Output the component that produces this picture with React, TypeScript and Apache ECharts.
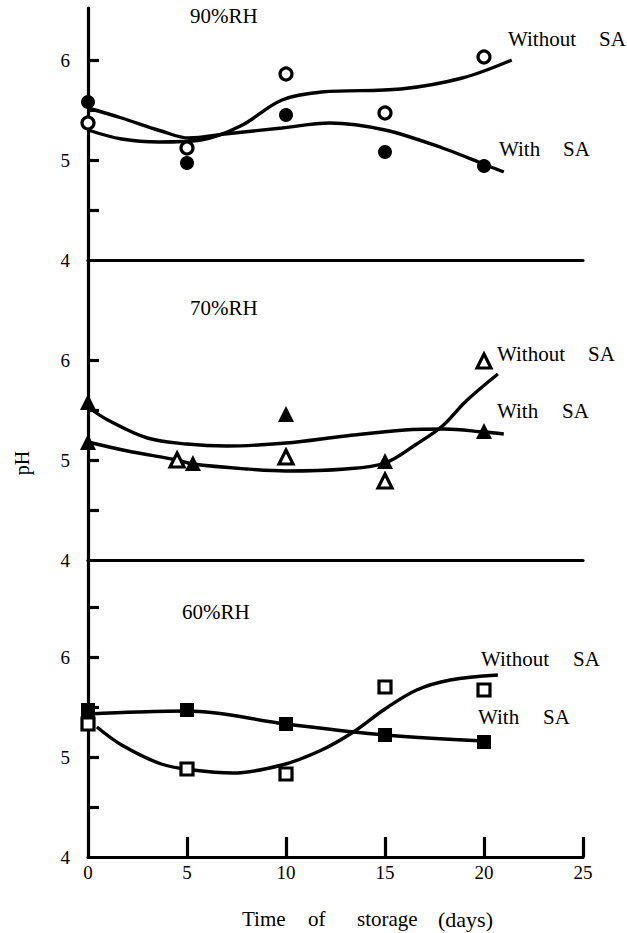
import React, { useEffect, useRef } from 'react';
import * as echarts from 'echarts';

// ---- data ----
const days = [0, 5, 10, 15, 20];
const xTickLabels = [0, 5, 10, 15, 20, 25];
const yTickLabels = [4, 5, 6];

// 90% RH
const open90 = [5.37, 5.12, 5.86, 5.47, 6.03];
const filled90 = [5.58, 4.97, 5.45, 5.08, 4.94];
const curve90Without = [
  [0, 5.3], [1.7, 5.21], [3.6, 5.18], [5.7, 5.2], [7.7, 5.34], [9.8, 5.6],
  [11.8, 5.68], [15.8, 5.71], [18.9, 5.82], [21.4, 6.0],
];
const curve90With = [
  [0, 5.52], [1.7, 5.42], [3.7, 5.29], [5.1, 5.22], [6.9, 5.26], [9.8, 5.32],
  [12.2, 5.37], [15.0, 5.3], [17.9, 5.12], [20.1, 4.95], [21.0, 4.88],
];

// 70% RH
const open70Days = [4.5, 10, 15, 20];
const open70 = [5.0, 5.03, 4.79, 5.99];
const filled70Days = [0, 0, 5.3, 10, 15, 20];
const filled70 = [5.58, 5.18, 4.97, 5.46, 4.99, 5.29];
const curve70Without = [
  [0, 5.18], [2, 5.09], [4.5, 5.0], [5.3, 4.96], [8, 4.91], [10, 4.89],
  [13, 4.91], [15, 4.97], [16.6, 5.16], [17.9, 5.34], [19.1, 5.59], [20.7, 5.86],
];
const curve70With = [
  [0, 5.53], [1, 5.4], [3, 5.22], [5, 5.16], [7, 5.14], [10, 5.17],
  [13, 5.24], [16, 5.3], [18, 5.31], [20, 5.28], [21, 5.26],
];

// 60% RH
const open60 = [5.33, 4.88, 4.83, 5.7, 5.67];
const filled60 = [5.47, 5.47, 5.33, 5.22, 5.15];
const curve60Without = [
  [0.45, 5.3], [1.7, 5.12], [3.7, 4.93], [5.3, 4.87], [7.3, 4.84], [9.8, 4.92],
  [11.8, 5.07], [13.4, 5.25], [15.0, 5.48], [16.6, 5.67], [18.3, 5.77], [20.7, 5.82],
];
const curve60With = [
  [0, 5.43], [2.5, 5.45], [5, 5.46], [10, 5.33], [15, 5.22], [20, 5.16],
];

const panelMax = [6.52, 7, 6.97];
const panelTicks = [
  [4.5, 5, 5.5, 6],
  [4.5, 5, 5.5, 6],
  [4.5, 5, 5.5, 6, 6.5],
];

// ---- styling ----
const FONT = '"Liberation Serif", "DejaVu Serif", serif';
const INK = '#000';
const LW = 3.2;
const CW = 3.4;

const pair = (xs: number[], ys: number[]) => xs.map((x, i) => [x, ys[i]]);

function curve(data: number[][], idx: number) {
  return {
    type: 'line',
    xAxisIndex: idx,
    yAxisIndex: idx,
    data,
    smooth: 0.35,
    symbol: 'none',
    lineStyle: { color: INK, width: CW, opacity: 1 },
    z: 2,
  };
}

function marks(data: number[][], idx: number, symbol: string, filled: boolean, size: number) {
  return {
    type: 'scatter',
    xAxisIndex: idx,
    yAxisIndex: idx,
    data,
    symbol,
    symbolSize: size,
    itemStyle: filled
      ? { color: INK, borderColor: INK, borderWidth: 0, opacity: 1 }
      : { color: '#fff', borderColor: INK, borderWidth: 3.2, opacity: 1 },
    z: 3,
  };
}

function text(t: string, x: number, y: number, size = 21, extra: any = {}) {
  return {
    type: 'text',
    x,
    y,
    ...extra,
    style: {
      text: t,
      fill: INK,
      font: `${size}px ${FONT}`,
      textVerticalAlign: 'middle',
      verticalAlign: 'middle',
      ...(extra.style || {}),
    },
  };
}

const grids = [
  { left: 88, right: 44, top: 8, height: 252 },
  { left: 88, right: 44, top: 260, height: 300 },
  { left: 88, right: 44, top: 560, height: 297 },
];

const xAxes = grids.map((_, i) => ({
  type: 'value',
  gridIndex: i,
  min: 0,
  max: 25,
  interval: 5,
  axisLine: { show: true, lineStyle: { color: INK, width: LW } },
  axisTick:
    i === 2
      ? { show: true, inside: true, length: 20, lineStyle: { color: INK, width: LW }, customValues: [5, 10, 15, 20, 25] }
      : { show: false },
  axisLabel:
    i === 2
      ? { show: true, color: INK, fontSize: 19, fontFamily: FONT, margin: 6, customValues: xTickLabels }
      : { show: false },
  splitLine: { show: false },
}));

const yAxes = grids.map((_, i) => ({
  type: 'value',
  gridIndex: i,
  min: 4,
  max: panelMax[i],
  interval: 0.5,
  axisLine: { show: true, lineStyle: { color: INK, width: LW } },
  axisTick: { show: true, inside: true, length: 11, lineStyle: { color: INK, width: LW }, customValues: panelTicks[i] },
  axisLabel: { show: true, color: INK, fontSize: 19, fontFamily: FONT, margin: 18, customValues: yTickLabels },
  splitLine: { show: false },
}));

const option = {
  animation: false,
  backgroundColor: '#fff',
  grid: grids,
  xAxis: xAxes,
  yAxis: yAxes,
  series: [
    curve(curve90Without, 0),
    curve(curve90With, 0),
    marks(pair(days, open90), 0, 'circle', false, 12),
    marks(pair(days, filled90), 0, 'circle', true, 14),

    curve(curve70Without, 1),
    curve(curve70With, 1),
    marks(pair(open70Days, open70), 1, 'triangle', false, 14),
    marks(pair(filled70Days, filled70), 1, 'triangle', true, 16),

    curve(curve60Without, 2),
    curve(curve60With, 2),
    marks(pair(days, open60), 2, 'rect', false, 12),
    marks(pair(days, filled60), 2, 'rect', true, 14),
  ],
  graphic: [
    text('90%RH', 190, 16),
    text('Without', 508, 39),
    text('SA', 599, 39),
    text('With', 499, 149),
    text('SA', 563, 149),

    text('70%RH', 190, 308),
    text('Without', 497, 354),
    text('SA', 588, 354),
    text('With', 497, 411),
    text('SA', 562, 411),

    text('60%RH', 182, 612),
    text('Without', 481, 659),
    text('SA', 573, 659),
    text('With', 478, 717),
    text('SA', 543, 717),

    text('Time', 242, 919),
    text('of', 308, 919),
    text('storage', 357, 919),
    text('(days)', 438, 919, 22),

    text('pH', 22, 463, 20, { rotation: Math.PI / 2, style: { align: 'center', textAlign: 'center' } }),
  ],
};

export default function App() {
  const ref = useRef<HTMLDivElement>(null);
  useEffect(() => {
    if (!ref.current) return;
    const chart = echarts.init(ref.current, null, { renderer: 'svg' });
    chart.setOption(option as any);
    return () => chart.dispose();
  }, []);
  return (
    <div
      ref={ref}
      style={{ position: 'fixed', left: 0, top: 0, width: 627, height: 933, background: '#fff' }}
    />
  );
}
